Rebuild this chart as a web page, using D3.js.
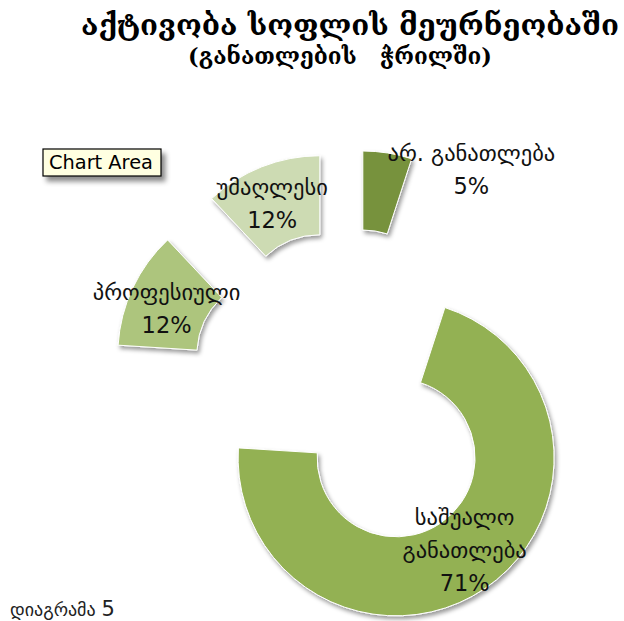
<!DOCTYPE html>
<html>
<head>
<meta charset="utf-8">
<script src="https://cdn.jsdelivr.net/npm/d3@7/dist/d3.min.js"></script>
<style>
  html, body { margin: 0; padding: 0; background: #ffffff; }
  svg { display: block; }
</style>
</head>
<body>
<div id="chart"></div>
<script>
// Agricultural activity by level of education (shares, %)
const categories = ["საშუალო\nგანათლება", "პროფესიული", "უმაღლესი", "არ. განათლება"];
const shares = [71, 12, 12, 5];
const percentLabels = ["71%", "12%", "12%", "5%"];

const titleText = "აქტივობა სოფლის მეურნეობაში";
const subtitleText = "(განათლების   ჭრილში)";
const captionWord = "დიაგრამა";
const captionNumber = "5";

const W = 624, H = 621;
const sliceColors = ["#93b153", "#adc57d", "#cddbb3", "#77923d"];
const labelFont = "'DejaVu Sans', sans-serif";

const svg = d3.select("#chart").append("svg")
  .attr("width", W).attr("height", H)
  .attr("viewBox", `0 0 ${W} ${H}`);

const defs = svg.append("defs");
const shadow = defs.append("filter").attr("id", "soft-shadow")
  .attr("x", "-20%").attr("y", "-20%").attr("width", "150%").attr("height", "150%");
shadow.append("feDropShadow")
  .attr("dx", 2).attr("dy", 3).attr("stdDeviation", 2.2)
  .attr("flood-color", "#000").attr("flood-opacity", 0.4);

const tipShadow = defs.append("filter").attr("id", "tip-shadow")
  .attr("x", "-20%").attr("y", "-30%").attr("width", "150%").attr("height", "180%");
tipShadow.append("feDropShadow")
  .attr("dx", 4).attr("dy", 5).attr("stdDeviation", 2.5)
  .attr("flood-color", "#000").attr("flood-opacity", 0.45);

// Fit a text element to a target width by scaling its font size
function fitWidth(sel, target) {
  const w = sel.node().getComputedTextLength();
  const fs = parseFloat(sel.attr("font-size"));
  if (w > 0) sel.attr("font-size", (fs * target / w).toFixed(2));
}

// Title block
const title = svg.append("text")
  .attr("x", 350).attr("y", 35)
  .attr("text-anchor", "middle")
  .attr("font-family", "'DejaVu Serif', serif")
  .attr("font-weight", "bold")
  .attr("font-size", 26)
  .attr("fill", "#000")
  .text(titleText);
fitWidth(title, 538);

const subtitle = svg.append("text")
  .attr("x", 340).attr("y", 64)
  .attr("text-anchor", "middle")
  .attr("font-family", "'DejaVu Serif', serif")
  .attr("font-weight", "bold")
  .attr("font-size", 20)
  .attr("fill", "#000")
  .attr("xml:space", "preserve")
  .style("white-space", "pre")
  .text(subtitleText);
fitWidth(subtitle, 304);

// Exploded doughnut
const cx = 350, cy = 390;
const outerR = 158, innerR = 79;
const explode = 82;
const startDeg = 18;

const pie = d3.pie().sort(null)
  .startAngle(startDeg * Math.PI / 180)
  .endAngle(startDeg * Math.PI / 180 + 2 * Math.PI);
const arcs = pie(shares);
const arc = d3.arc().innerRadius(innerR).outerRadius(outerR);

const offset = d => {
  const mid = (d.startAngle + d.endAngle) / 2;
  return [explode * Math.sin(mid), -explode * Math.cos(mid)];
};

const g = svg.append("g").attr("transform", `translate(${cx},${cy})`);

g.selectAll("path.slice")
  .data(arcs)
  .join("path")
  .attr("class", "slice")
  .attr("transform", d => `translate(${offset(d)})`)
  .attr("d", arc)
  .attr("fill", (d, i) => sliceColors[i])
  .attr("stroke", "#ffffff")
  .attr("stroke-width", 1)
  .attr("filter", "url(#soft-shadow)");

// Data labels: category name over percentage, centred on the slice
const labelNudge = [[2, -6], [-2, 4], [-4, 0], [90, -22]];
const lineStep = 33;

arcs.forEach((d, i) => {
  const [ox, oy] = offset(d);
  const [px, py] = arc.centroid(d);
  const x = px + ox + labelNudge[i][0];
  const y = py + oy + labelNudge[i][1];
  const lines = categories[i].split("\n").concat([percentLabels[i]]);
  const top = y - (lines.length - 1) * lineStep / 2;
  const t = g.append("text")
    .attr("text-anchor", "middle")
    .attr("font-family", labelFont)
    .attr("font-size", 22.5)
    .attr("fill", "#111");
  lines.forEach((ln, k) => {
    t.append("tspan")
      .attr("x", x)
      .attr("y", top + k * lineStep)
      .attr("dy", "0.35em")
      .text(ln);
  });
});

// "Chart Area" hover tag
const tip = svg.append("g").attr("transform", "translate(43,149)");
tip.append("rect")
  .attr("width", 118).attr("height", 27)
  .attr("fill", "#ffffe1").attr("stroke", "#000").attr("stroke-width", 1.2)
  .attr("filter", "url(#tip-shadow)");
const tipText = tip.append("text")
  .attr("x", 6).attr("y", 20)
  .attr("font-family", "'DejaVu Sans', sans-serif")
  .attr("font-size", 16)
  .attr("fill", "#000")
  .text("Chart Area");
fitWidth(tipText, 104);

// Figure caption
const caption = svg.append("text")
  .attr("x", 10).attr("y", 616)
  .attr("font-family", "'DejaVu Sans', sans-serif")
  .attr("fill", "#222");
caption.append("tspan").attr("font-size", 18).text(captionWord + " ");
caption.append("tspan").attr("font-size", 21).text(captionNumber);
</script>
</body>
</html>
